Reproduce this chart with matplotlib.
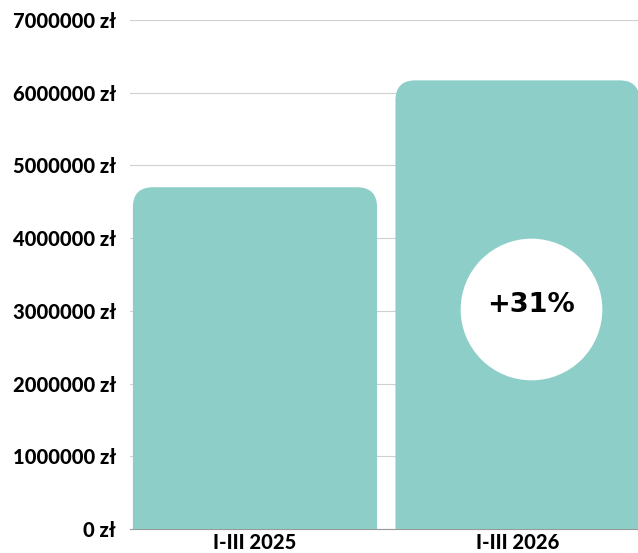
import matplotlib.pyplot as plt
from matplotlib.patches import FancyBboxPatch
from matplotlib.ticker import FuncFormatter

# dane
okresy = ['I-III 2025', 'I-III 2026']
wartosci = [4700000, 6170000]
ticks_y = [0, 1000000, 2000000, 3000000, 4000000, 5000000, 6000000, 7000000]

kolor = '#8dcfc8'
plt.rcParams['font.family'] = ['Lato', 'DejaVu Sans']

fig = plt.figure(figsize=(6.38, 5.53), dpi=100)
ax = fig.add_axes([130 / 638, 24 / 553, 508 / 638, 509 / 553])

szer = 0.93
ax.set_xlim(-0.476, 1.459)
ax.set_ylim(0, 7000000)

# skala px -> dane (do zaokraglen)
px_x = (1.459 + 0.476) / 508
px_y = 7000000 / 509
r_px = 20
for i, v in enumerate(wartosci):
    p = FancyBboxPatch((i - szer / 2, -r_px * px_y), szer, v + r_px * px_y,
                       boxstyle='round,pad=0,rounding_size=%f' % (r_px * px_x),
                       mutation_aspect=px_y / px_x,
                       facecolor=kolor, edgecolor='none', zorder=3)
    ax.add_patch(p)

# kolko z procentem
wzrost = round((wartosci[1] / wartosci[0] - 1) * 100)
ax.scatter([1.05], [3030000], s=102 ** 2, color='white', zorder=4, linewidths=0)
ax.text(1.05, 3080000, '+%d%%' % wzrost, ha='center', va='center',
        fontsize=19.5, fontweight='bold', family='DejaVu Sans', zorder=5)

ax.set_yticks(ticks_y)
ax.yaxis.set_major_formatter(FuncFormatter(lambda v, p: '%d zł' % v))
ax.set_xticks(range(len(okresy)))
ax.set_xticklabels(okresy)
for lab in ax.get_yticklabels() + ax.get_xticklabels():
    lab.set_fontweight('black')
    lab.set_fontsize(14.5)
ax.tick_params(axis='both', length=0)
ax.tick_params(axis='y', pad=10)
ax.tick_params(axis='x', pad=3)

ax.grid(axis='y', color='#d0d0d0', linewidth=0.8, zorder=0)
ax.set_axisbelow(True)
for s in ['top', 'right', 'left']:
    ax.spines[s].set_visible(False)
ax.spines['bottom'].set_color('#999999')

fig.savefig('out.png', dpi=100)
